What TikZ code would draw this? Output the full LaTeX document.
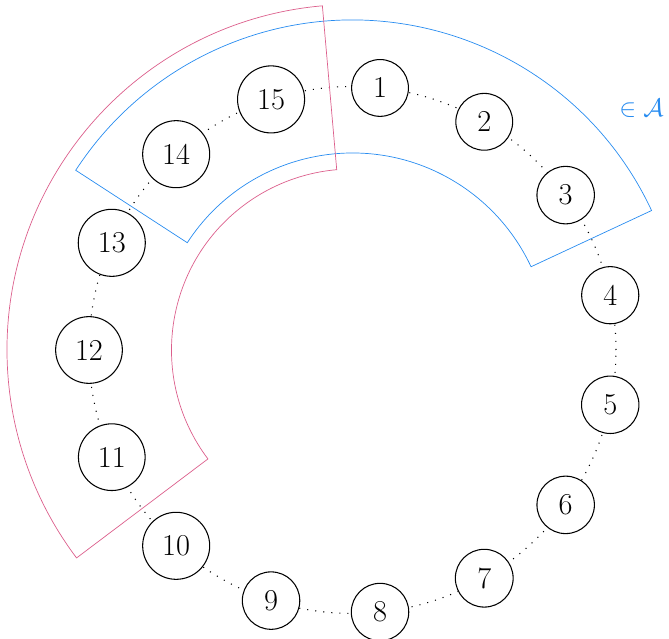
\documentclass[tikz,border=0pt]{standalone}
\usepackage{amsmath,amssymb}
\usepackage{xcolor}
\usepackage{tikz}

\definecolor{setblue}{RGB}{40,140,240}
\definecolor{setpink}{RGB}{220,95,140}

\begin{document}
\begin{tikzpicture}[
  vert/.style={draw, circle, inner sep=6.6pt, fill=white, font=\LARGE,
               line width=0.6pt},
  ring/.style={loosely dotted, line width=0.6pt},
  blueset/.style={setblue},
  pinkset/.style={setpink}
]
  \useasboundingbox (-7.05,-5.78) rectangle (6.33,7.0);

  % the cycle behind the vertices
  \draw[ring] (0,0) circle (5.27);

  \node[vert] (v1)  at (84:5.27)   {1};
  \node[vert] (v2)  at (60:5.27)   {2};
  \node[vert] (v3)  at (36:5.27)   {3};
  \node[vert] (v4)  at (12:5.27)   {4};
  \node[vert] (v5)  at (-12:5.27)  {5};
  \node[vert] (v6)  at (-36:5.27)  {6};
  \node[vert] (v7)  at (-60:5.27)  {7};
  \node[vert] (v8)  at (-84:5.27)  {8};
  \node[vert] (v9)  at (-108:5.27) {9};
  \node[vert] (v10) at (-132:5.27) {10};
  \node[vert] (v11) at (-156:5.27) {11};
  \node[vert] (v12) at (-180:5.27) {12};
  \node[vert] (v13) at (-204:5.27) {13};
  \node[vert] (v14) at (-228:5.27) {14};
  \node[vert] (v15) at (-252:5.27) {15};

  % annular sectors
  \draw[blueset] (25:6.6) arc[start angle=25, end angle=147, radius=6.6]
    -- (147:3.94) arc[start angle=147, end angle=25, radius=3.94] -- cycle;
  \draw[pinkset] (95:6.91) arc[start angle=95, end angle=217, radius=6.91]
    -- (217:3.62) arc[start angle=217, end angle=95, radius=3.62] -- cycle;

  \node[setblue, font=\Large] (lbl) at (5.78,4.84) {$\in\mathcal{A}$};
\end{tikzpicture}
\end{document}
